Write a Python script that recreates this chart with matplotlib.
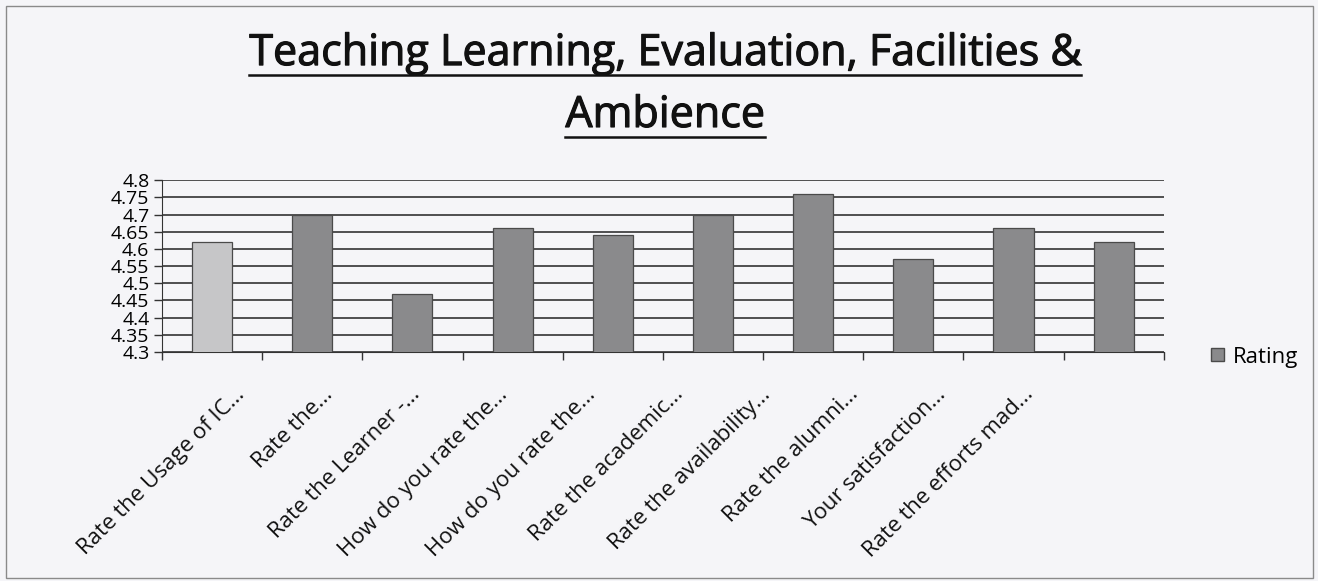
import numpy as np
import matplotlib
matplotlib.use("Agg")
from matplotlib import pyplot as plt
from matplotlib import patheffects
from matplotlib.lines import Line2D
from matplotlib.patches import Rectangle, Patch

categories = [
    "Rate the Usage of IC...",
    "Rate the...",
    "Rate the Learner -...",
    "How do you rate the...",
    "How do you rate the...",
    "Rate the academic...",
    "Rate the availability...",
    "Rate the alumni...",
    "Your satisfaction...",
    "Rate the efforts mad...",
]
ratings = [4.62, 4.70, 4.47, 4.66, 4.64, 4.70, 4.76, 4.57, 4.66, 4.62]
bar_colors = ["#c6c6c8"] + ["#8a8a8c"] * 9
y_ticks = [4.3, 4.35, 4.4, 4.45, 4.5, 4.55, 4.6, 4.65, 4.7, 4.75, 4.8]
y_labels = ["4.3", "4.35", "4.4", "4.45", "4.5", "4.55", "4.6", "4.65", "4.7", "4.75", "4.8"]
title_lines = ["Teaching Learning, Evaluation, Facilities &", "Ambience"]
legend_label = "Rating"

bg = "#f5f5f8"
plt.rcParams["font.family"] = ["Open Sans", "DejaVu Sans"]

fig = plt.figure(figsize=(13.18, 5.81), dpi=100, facecolor=bg)
ax = fig.add_axes([0.1229, 0.394, 0.7601, 0.296], facecolor=bg)

x = np.arange(len(categories))
ax.bar(x, ratings, width=0.4, color=bar_colors, edgecolor="#4a4a4a", linewidth=0.9, zorder=3)

ax.set_xlim(-0.5, len(categories) - 0.5)
ax.set_ylim(4.3, 4.8)
ax.set_yticks(y_ticks)
ax.set_yticklabels(y_labels, fontsize=14)
ax.yaxis.grid(True, color="#222222", linewidth=1.1, zorder=0)
ax.tick_params(axis="y", direction="out", length=6, width=1, pad=3, color="#333333")

# ticks on category boundaries; the labels in the scan sit a bit tighter than the bars
ax.set_xticks(np.arange(len(categories) + 1) - 0.5)
ax.set_xticklabels([])
ax.tick_params(axis="x", which="major", direction="out", length=6, width=1, color="#333333")
label_pos = 0.22 + 0.875 * x
ax.set_xticks(label_pos, minor=True)
ax.set_xticklabels(categories, minor=True, rotation=45, ha="right", va="top",
                   rotation_mode="anchor", fontsize=16, color="#111111")
ax.tick_params(axis="x", which="minor", length=0, pad=23)

for s in ["top", "right"]:
    ax.spines[s].set_visible(False)
ax.spines["left"].set_color("#333333")
ax.spines["bottom"].set_color("#333333")

fig.legend(handles=[Patch(facecolor="#8a8a8c", edgecolor="#4a4a4a", label=legend_label)],
           loc="center left", bbox_to_anchor=(0.904, 0.3855), frameon=False,
           fontsize=16, handlelength=0.55, handleheight=0.55, handletextpad=0.4)

# title with underline (slight stroke to mimic the heavier scanned text)
fig.canvas.draw()
renderer = fig.canvas.get_renderer()
stroke = [patheffects.withStroke(linewidth=0.8, foreground="#111111")]
for yy, line in zip([0.888, 0.7814], title_lines):
    t = fig.text(0.5046, yy, line, ha="center", va="baseline", fontsize=31, color="#111111",
                 path_effects=stroke)
    bb = t.get_window_extent(renderer=renderer)
    x0, x1 = bb.x0 / fig.bbox.width, bb.x1 / fig.bbox.width
    yl = yy - 10 / fig.bbox.height
    fig.add_artist(Line2D([x0, x1], [yl, yl], color="#111111", linewidth=1.8, transform=fig.transFigure))

fig.add_artist(Rectangle((6 / 1318, 3 / 581), 1307 / 1318, 572 / 581, fill=False, edgecolor="#8a8a8a",
                         linewidth=1, transform=fig.transFigure))

fig.savefig("out.png", dpi=100, facecolor=bg)
